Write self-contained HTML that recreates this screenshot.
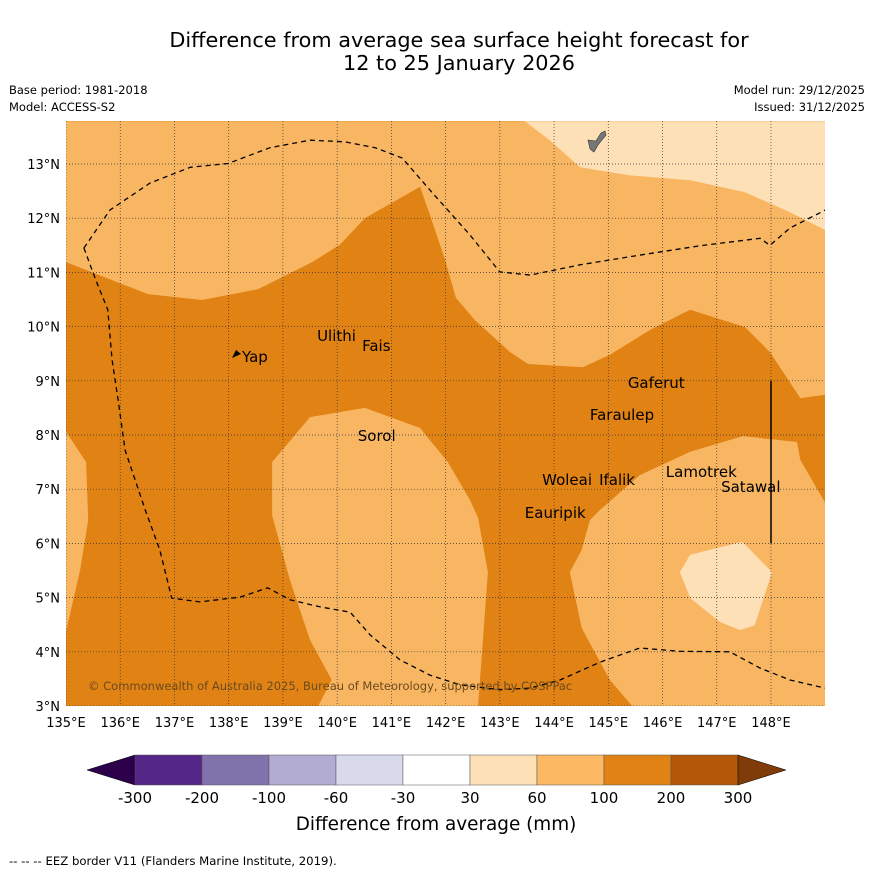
<!DOCTYPE html>
<html><head><meta charset="utf-8">
<style>
body{margin:0;background:#fff;font-family:"DejaVu Sans","Liberation Sans",sans-serif;}
svg{display:block}
text{font-family:"DejaVu Sans","Liberation Sans",sans-serif;}
</style></head>
<body>
<svg id="chart" width="873" height="873" viewBox="0 0 873 873">
<text x="459" y="47" font-size="20.8" text-anchor="middle">Difference from average sea surface height forecast for</text>
<text x="459" y="70" font-size="20.8" text-anchor="middle">12 to 25 January 2026</text>
<text x="9" y="94" font-size="11.5">Base period: 1981-2018</text>
<text x="9" y="111" font-size="11.5">Model: ACCESS-S2</text>
<text x="865" y="94" font-size="11.5" text-anchor="end">Model run: 29/12/2025</text>
<text x="865" y="111" font-size="11.5" text-anchor="end">Issued: 31/12/2025</text>
<defs><clipPath id="mapclip"><rect x="66" y="121" width="759" height="585"/></clipPath></defs>
<g id="map" clip-path="url(#mapclip)"></g>
<g id="axes"></g>
<g id="cbar"></g>
<text x="436" y="830" font-size="18.4" text-anchor="middle">Difference from average (mm)</text>
<text x="9" y="865" font-size="11.7">--  --  -- EEZ border V11 (Flanders Marine Institute, 2019).</text>
</svg>
<script>
const NS='http://www.w3.org/2000/svg';
const lonTicks=[135,136,137,138,139,140,141,142,143,144,145,146,147,148];
const latTicks=[3,4,5,6,7,8,9,10,11,12,13];
const topLight=[[135,13.79],[149,13.79],[149,8.74],[148.54,8.68],[147.98,9.53],[147.52,9.99],[146.51,10.31],[145.77,9.94],[145.03,9.48],[144.53,9.25],[143.52,9.31],[143.19,9.53],[142.54,10.12],[142.19,10.53],[141.99,11.23],[141.71,12.06],[141.53,12.58],[140.51,12.0],[140.05,11.51],[139.54,11.19],[138.54,10.69],[137.51,10.49],[136.51,10.6],[135,11.19]];
const topLightest=[[143.46,13.79],[143.92,13.44],[144.48,12.94],[145.4,12.79],[146.51,12.7],[147.52,12.48],[148.35,12.11],[149,11.78],[149,13.79]];
const midLight=[[138.8,7.5],[139.5,8.33],[140.51,8.5],[141.53,8.13],[142.04,7.5],[142.45,6.8],[142.6,6.47],[142.78,5.47],[142.6,3],[139.65,3],[139.9,3.48],[139.5,4.22],[139.13,5.32],[138.8,6.52]];
const brLight=[[149,6.75],[148.54,7.54],[148.48,7.87],[147.48,7.98],[146.51,7.69],[145.58,7.26],[144.85,6.62],[144.66,6.43],[144.51,5.88],[144.29,5.47],[144.51,4.44],[145.03,3.48],[145.44,3],[149,3]];
const brLightest=[[146.51,5.79],[147.47,6.03],[148.02,5.47],[147.7,4.49],[147.43,4.4],[147.06,4.55],[146.51,4.99],[146.32,5.47]];
const leftLight=[[135,8.06],[135.37,7.5],[135.41,6.43],[135.26,5.51],[135,4.37]];
const eezNorth=[[135.33,11.45],[135.81,12.15],[136.55,12.65],[137.29,12.94],[137.99,13.01],[138.76,13.3],[139.5,13.44],[140.14,13.41],[140.7,13.3],[141.2,13.11],[141.71,12.52],[142.45,11.69],[143.0,11.01],[143.56,10.95],[144.48,11.14],[145.58,11.32],[146.69,11.49],[147.8,11.63],[147.98,11.5],[148.35,11.82],[149,12.15]];
const eezSouth=[[135.33,11.45],[135.55,10.86],[135.77,10.31],[135.85,9.38],[135.96,8.65],[136.09,7.72],[136.46,6.62],[136.73,5.88],[136.95,4.99],[137.47,4.92],[138.21,5.01],[138.72,5.18],[139.13,4.96],[139.68,4.83],[140.24,4.73],[140.61,4.31],[141.16,3.85],[141.71,3.57],[142.27,3.39],[143.0,3.3],[143.56,3.33],[144.11,3.48],[144.85,3.81],[145.58,4.07],[146.32,4.01],[147.24,4.0],[147.8,3.7],[148.35,3.48],[149,3.33]];
const islandNames=['Yap','Ulithi','Fais','Sorol','Gaferut','Faraulep','Woleai','Ifalik','Eauripik','Lamotrek','Satawal'];
const islandLon=[138.245,139.63,140.46,140.38,145.36,144.66,143.78,144.83,143.46,146.06,147.08];
const islandLat=[9.44,9.83,9.64,7.98,8.96,8.37,7.17,7.17,6.56,7.32,7.04];
const cbLabels=['-300','-200','-100','-60','-30','30','60','100','200','300'];
const cbColors=['#542788','#8073ac','#b2abd2','#d8daeb','#ffffff','#fee0b6','#fdb863','#e08214','#b35806'];

const X=lon=>66+(lon-135)*54.23;
const Y=lat=>706-(lat-3)*54.2;
function mk(tag,attrs,parent){const e=document.createElementNS(NS,tag);for(const k in attrs)e.setAttribute(k,attrs[k]);parent.appendChild(e);return e;}
const pts=a=>a.map(p=>X(p[0]).toFixed(1)+','+Y(p[1]).toFixed(1)).join(' ');
const map=document.getElementById('map');
let bg=mk('rect',{x:66,y:121,width:759,height:585,fill:'#e08214'},map);


const regions=[[topLight,'#f9b662','region-top-100mm'],[topLightest,'#fee0b6','region-top-60mm'],[midLight,'#f9b662','region-middle-100mm'],[brLight,'#f9b662','region-southeast-100mm'],[brLightest,'#fee0b6','region-southeast-60mm'],[leftLight,'#f9b662','region-west-100mm']];
regions.forEach(r=>{const e=mk('polygon',{points:pts(r[0]),fill:r[1]},map);

});
const ax=document.getElementById('axes');
lonTicks.forEach(l=>{const g=mk('line',{x1:X(l),x2:X(l),y1:121,y2:706,stroke:'#333','stroke-width':0.7,'stroke-dasharray':'1,2'},map);


const t=mk('text',{x:X(l),y:727,'font-size':13,'text-anchor':'middle'},ax);t.textContent=l+'°E';

});
latTicks.forEach(l=>{const g=mk('line',{x1:66,x2:825,y1:Y(l),y2:Y(l),stroke:'#333','stroke-width':0.7,'stroke-dasharray':'1,2'},map);


const t=mk('text',{x:60,y:Y(l)+5,'font-size':13,'text-anchor':'end'},ax);t.textContent=l+'°N';

});
[eezNorth,eezSouth].forEach(a=>{const e=mk('polyline',{points:pts(a),fill:'none',stroke:'#000','stroke-width':1.3,'stroke-dasharray':'5,4'},map);

});
let bl=mk('line',{x1:X(148),x2:X(148),y1:Y(9),y2:Y(6),stroke:'#000','stroke-width':1.5},map);


let guam=mk('path',{d:'M588,140 L596,141 L601,133 L605,131 L606,135 L598,145 L594,152 L590,149 Z',fill:'#777',stroke:'#333','stroke-width':0.6},map);


let yap=mk('path',{d:'M232,358 L236,350 L241,354 Z',fill:'#000'},map);


islandNames.forEach((n,i)=>{const t=mk('text',{x:X(islandLon[i]),y:Y(islandLat[i])+5,'font-size':15},map);t.textContent=n;

});
let cp=mk('text',{x:88,y:690,'font-size':11.5,fill:'#6b4a1e'},map);cp.textContent='© Commonwealth of Australia 2025, Bureau of Meteorology, supported by COSPPac';


const cb=document.getElementById('cbar');
const cx0=135,cw=67,cy=755,ch=30;
let lt=mk('polygon',{points:`${cx0},${cy} 87,${cy+ch/2} ${cx0},${cy+ch}`,fill:'#2d004b',stroke:'#000','stroke-width':0.5},cb);


cbColors.forEach((c,i)=>{const r=mk('rect',{x:cx0+i*cw,y:cy,width:cw,height:ch,fill:c,stroke:'#555','stroke-width':0.5},cb);

});
let rt=mk('polygon',{points:`${cx0+9*cw},${cy} 786,${cy+ch/2} ${cx0+9*cw},${cy+ch}`,fill:'#7f3b08',stroke:'#000','stroke-width':0.5},cb);


cbLabels.forEach((s,i)=>{const t=mk('text',{x:cx0+i*cw,y:803,'font-size':15,'text-anchor':'middle'},cb);t.textContent=s;

});
</script>
</body></html>
